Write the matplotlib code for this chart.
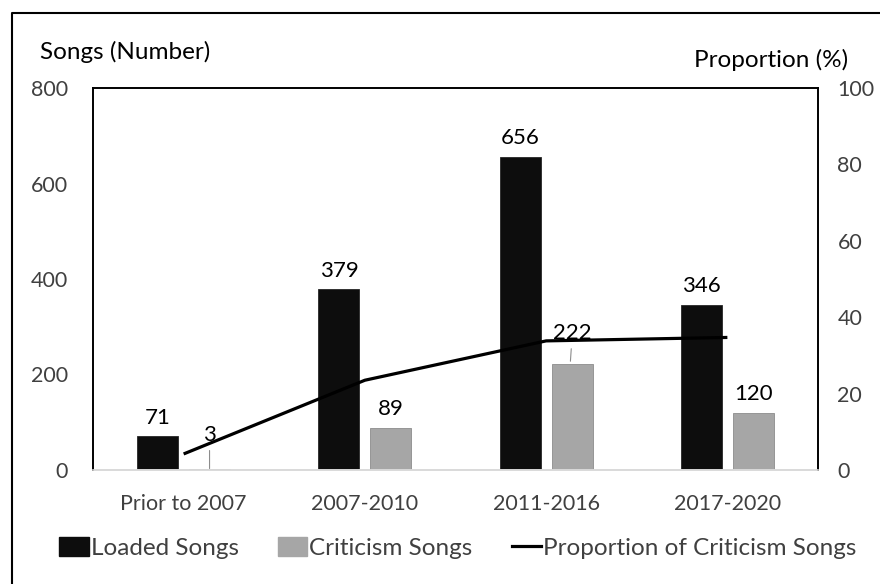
import matplotlib
matplotlib.use("Agg")
import matplotlib.pyplot as plt
from matplotlib.lines import Line2D
from matplotlib.patches import Patch
import numpy as np

plt.rcParams['font.family'] = ['Lato', 'DejaVu Sans']

categories = ["Prior to 2007", "2007-2010", "2011-2016", "2017-2020"]
loaded = [71, 379, 656, 346]
criticism = [3, 89, 222, 120]
proportion = [4.2, 23.5, 33.8, 34.7]
left_ticks = [0, 200, 400, 600, 800]
right_ticks = [0, 20, 40, 60, 80, 100]

W, H = 880, 584
fig = plt.figure(figsize=(W / 100, H / 100), dpi=100)
ax = fig.add_axes([93 / W, 1 - 470 / H, (818 - 93) / W, (470 - 88) / H])
ax2 = ax.twinx()

x = np.arange(len(categories))
bw = 0.226
off = 0.143
black = "#0d0d0d"
gray = "#a6a6a6"
ax.bar(x - off, loaded, bw, color=black, edgecolor="#262626", linewidth=0.6, zorder=2)
ax.bar(x + off, criticism, bw, color=gray, edgecolor="#8c8c8c", linewidth=0.6, zorder=2)

ax.set_xlim(-0.5, len(categories) - 0.5)
ax.set_ylim(0, 800)
ax.set_yticks(left_ticks)
ax2.set_ylim(0, 100)
ax2.set_yticks(right_ticks)

ax2.plot(x, proportion, color="#000000", linewidth=2.3, zorder=5, solid_capstyle="butt")

lab_fs = 16
for i, v in enumerate(loaded):
    ax.annotate(str(v), (x[i] - off, v), xytext=(0, 6), textcoords="offset points",
                ha="center", va="bottom", fontsize=lab_fs, color="#000000")
for i, v in enumerate(criticism):
    if i == 0:
        ax.annotate(str(v), (x[i] + off, v), xytext=(0, 17), textcoords="offset points",
                    ha="center", va="bottom", fontsize=lab_fs, color="#000000",
                    arrowprops=dict(arrowstyle="-", color="#8c8c8c", lw=0.8,
                                    shrinkA=2, shrinkB=0))
    elif i == 2:
        ax.annotate(str(v), (x[i] + off - 0.01, v), xytext=(1.5, 15), textcoords="offset points",
                    ha="center", va="bottom", fontsize=lab_fs, color="#000000",
                    arrowprops=dict(arrowstyle="-", color="#8c8c8c", lw=0.8,
                                    shrinkA=2, shrinkB=2))
    else:
        ax.annotate(str(v), (x[i] + off, v), xytext=(0, 6), textcoords="offset points",
                    ha="center", va="bottom", fontsize=lab_fs, color="#000000")

ax.set_xticks(x)
ax.set_xticklabels(categories, fontsize=15.5, color="#404040")
for a in (ax, ax2):
    a.tick_params(axis="both", length=0, labelsize=15.5, labelcolor="#404040")
ax.tick_params(axis="x", pad=17)
ax.tick_params(axis="y", pad=18)
ax2.tick_params(axis="y", pad=14)

for a in (ax, ax2):
    a.spines["top"].set_color("#000000")
    a.spines["left"].set_color("#000000")
    a.spines["right"].set_color("#000000")
    a.spines["bottom"].set_color("#d9d9d9")
    for s in a.spines.values():
        s.set_linewidth(1.2)

fig.text(40 / W, 1 - 52 / H, "Songs (Number)", fontsize=17.5, color="#000000",
         ha="left", va="center")
fig.text(848 / W, 1 - 60 / H, "Proportion (%)", fontsize=17.5, color="#000000",
         ha="right", va="center")

handles = [Patch(facecolor=black, edgecolor=black),
           Patch(facecolor=gray, edgecolor=gray),
           Line2D([0], [0], color="#000000", lw=2.3)]
labels = ["Loaded Songs", "Criticism Songs", "Proportion of Criticism Songs"]
fig.legend(handles, labels, loc="center", bbox_to_anchor=(458 / W, 1 - 548 / H),
           ncol=3, frameon=False, fontsize=17.5, labelcolor="#404040",
           handlelength=1.2, handletextpad=0.1, columnspacing=1.6, handleheight=0.8)

fig.add_artist(Line2D([12 / W, 12 / W, 1.0], [0.0, 1 - 13 / H, 1 - 13 / H],
                      transform=fig.transFigure, color="#000000", lw=1.5))

fig.savefig("out.png", dpi=100)
